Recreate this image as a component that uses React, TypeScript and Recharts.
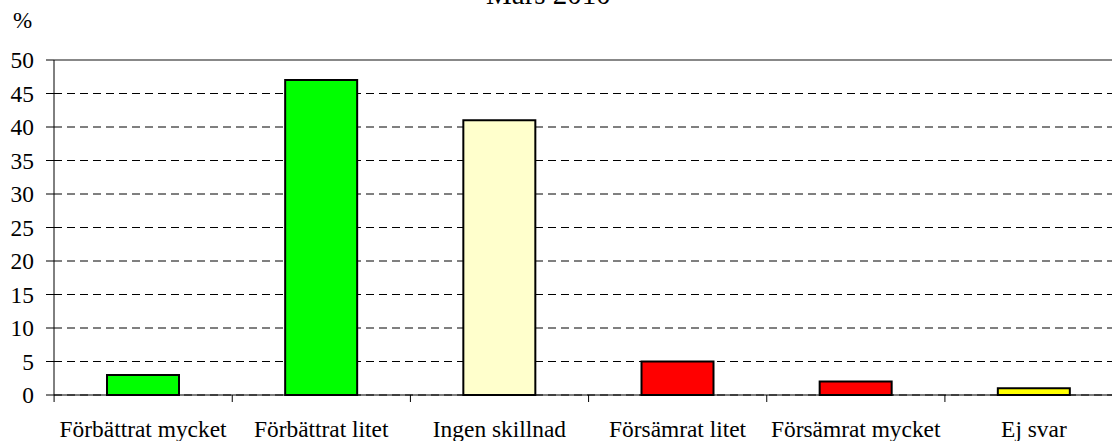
import { Bar, BarChart, CartesianGrid, Cell, ReferenceLine, XAxis, YAxis } from "recharts";

const categories = [
  "Förbättrat mycket",
  "Förbättrat litet",
  "Ingen skillnad",
  "Försämrat litet",
  "Försämrat mycket",
  "Ej svar",
];
const percent = [3, 47, 41, 5, 2, 1];
const barColors = ["#00ff00", "#00ff00", "#ffffcc", "#ff0000", "#ff0000", "#ffff00"];
const yTicks = [0, 5, 10, 15, 20, 25, 30, 35, 40, 45, 50];

const data = categories.map((name, i) => ({ name, value: percent[i] }));

const FONT = "'Liberation Serif', 'Times New Roman', serif";
const BAND = 178;
const AXIS_Y = 395;

// label centred under the bar, plus the boundary tick on the left of each band
function CategoryTick(props: any) {
  const { x, y, payload } = props;
  const left = x - BAND / 2;
  return (
    <g>
      <line x1={left} y1={AXIS_Y} x2={left} y2={AXIS_Y + 7} stroke="#000" strokeWidth={1} />
      <text x={x} y={y} dy="0.71em" textAnchor="middle" style={{ fontFamily: FONT }} fontSize={23.4} fill="#000">
        {payload.value}
      </text>
    </g>
  );
}

export default function App() {
  return (
    <div style={{ position: "absolute", left: 0, top: 0, width: 1112, height: 441, overflow: "hidden", background: "#fff", fontFamily: FONT }}>
      <div style={{ position: "absolute", left: 486, top: -22, fontSize: 29, lineHeight: "normal", color: "#000", whiteSpace: "nowrap" }}>
        Mars 2010
      </div>
      <div style={{ position: "absolute", left: 13, top: 8, fontSize: 23, color: "#000" }}>%</div>
      <BarChart
        width={1123}
        height={441}
        data={data}
        margin={{ top: 60, right: 0, bottom: 0, left: 0 }}
        barCategoryGap={53}
        style={{ fontFamily: FONT }}
      >
        <CartesianGrid vertical={false} stroke="#000" strokeDasharray="8 5" />
        <ReferenceLine y={50} stroke="#888" strokeWidth={2} />
        <XAxis
          dataKey="name"
          height={46}
          tickLine={false}
          axisLine={{ stroke: "#000", strokeWidth: 1 }}
          tickMargin={19}
          interval={0}
          tick={<CategoryTick />}
        />
        <YAxis
          width={54}
          domain={[0, 50]}
          ticks={yTicks}
          interval={0}
          tickSize={8}
          tickMargin={12}
          axisLine={{ stroke: "#000", strokeWidth: 1 }}
          tickLine={{ stroke: "#000" }}
          tick={{ fontSize: 23.4, fill: "#000", style: { fontFamily: FONT } }}
        />
        <Bar dataKey="value" stroke="#000" strokeWidth={2} isAnimationActive={false}>
          {data.map((d, i) => (
            <Cell key={d.name} fill={barColors[i]} />
          ))}
        </Bar>
      </BarChart>
    </div>
  );
}
